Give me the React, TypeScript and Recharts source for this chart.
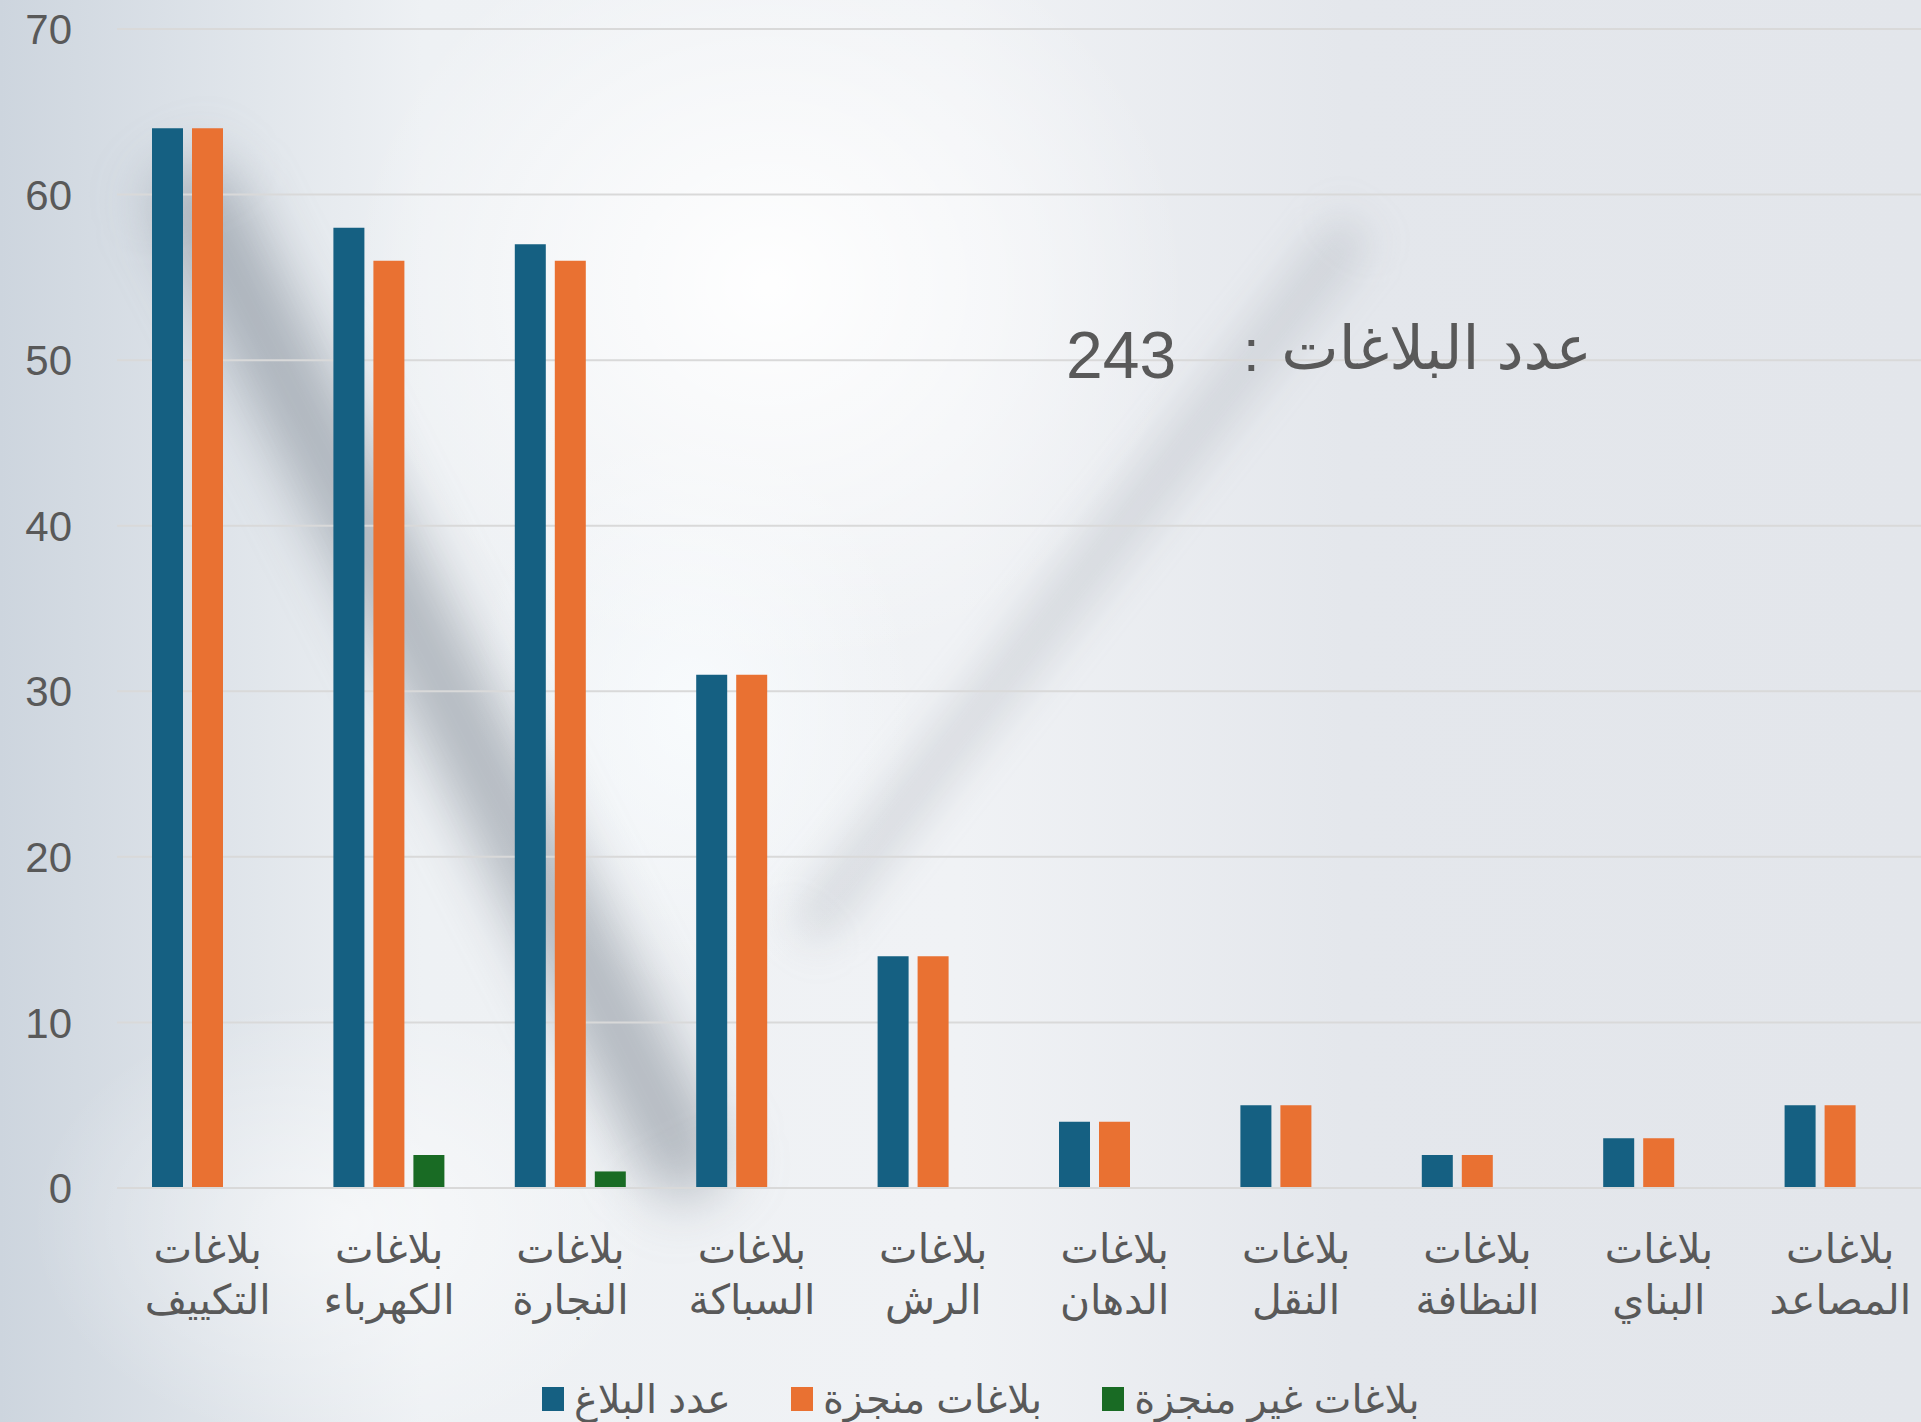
import { BarChart, Bar, XAxis, YAxis, CartesianGrid } from 'recharts';

const categories = [
  'بلاغات التكييف',
  'بلاغات الكهرباء',
  'بلاغات النجارة',
  'بلاغات السباكة',
  'بلاغات الرش',
  'بلاغات الدهان',
  'بلاغات النقل',
  'بلاغات النظافة',
  'بلاغات البناي',
  'بلاغات المصاعد',
];
const totalReports = [64, 58, 57, 31, 14, 4, 5, 2, 3, 5];
const doneReports = [64, 56, 56, 31, 14, 4, 5, 2, 3, 5];
const openReports = [0, 2, 1, 0, 0, 0, 0, 0, 0, 0];
const yTicks = [0, 10, 20, 30, 40, 50, 60, 70];

const series = [
  { key: 'total', name: 'عدد البلاغ', color: '#156082' },
  { key: 'done', name: 'بلاغات منجزة', color: '#E97132' },
  { key: 'open', name: 'بلاغات غير منجزة', color: '#196B24' },
];

const titleLabel = 'عدد البلاغات';
const titleValue = 243;

const data = categories.map((name, i) => ({
  name,
  total: totalReports[i],
  done: doneReports[i],
  open: openReports[i],
}));

const FONT = '"Liberation Sans", Arial, "DejaVu Sans", sans-serif';
const TEXT = '#595959';

const CategoryTick = ({ x, y, payload }: any) => {
  const words = String(payload.value).split(' ');
  return (
    <g>
      <text x={x} y={y + 67} textAnchor="middle" fill={TEXT} fontSize={41} fontFamily={FONT}>
        {words[0]}
      </text>
      <text x={x} y={y + 118} textAnchor="middle" fill={TEXT} fontSize={41} fontFamily={FONT}>
        {words.slice(1).join(' ')}
      </text>
    </g>
  );
};

const ValueTick = ({ y, payload }: any) => (
  <text x={72} y={y} dy="0.36em" textAnchor="end" fill={TEXT} fontSize={42} fontFamily={FONT}>
    {payload.value}
  </text>
);

// soft blurred streaks of the photo behind the chart
const Streak = ({ cx, cy, len, w, angle, color, blur }: any) => (
  <div
    style={{
      position: 'absolute',
      left: cx - w / 2,
      top: cy - len / 2,
      width: w,
      height: len,
      background: color,
      borderRadius: w,
      filter: `blur(${blur}px)`,
      transform: `rotate(${angle}deg)`,
    }}
  />
);

export default function App() {
  return (
    <div
      style={{
        position: 'absolute',
        left: 0,
        top: 0,
        width: 1921,
        height: 1422,
        overflow: 'hidden',
        fontFamily: FONT,
        background: [
          'radial-gradient(ellipse 560px 520px at 40% 20%, rgba(255,255,255,0.95), rgba(255,255,255,0) 75%)',
          'radial-gradient(ellipse 300px 380px at 36% 50%, rgba(250,253,255,0.8), rgba(255,255,255,0) 75%)',
          'radial-gradient(ellipse 420px 300px at 18% 86%, rgba(255,255,255,0.55), rgba(255,255,255,0) 75%)',
          'linear-gradient(to right, #cdd5de 0%, #eef1f4 22%, #f0f2f5 50%, #e4e7ec 70%, #e3e6eb 100%)',
        ].join(', '),
      }}
    >
      <Streak cx={440} cy={680} len={1150} w={80} angle={-27} color="rgba(110,120,132,0.5)" blur={30} />
      <Streak cx={1080} cy={580} len={900} w={40} angle={38} color="rgba(135,145,156,0.28)" blur={22} />

      <div style={{ position: 'absolute', left: 0, top: 0 }}>
        <BarChart
          width={1931}
          height={1422}
          data={data}
          margin={{ top: 29, right: 0, left: 0, bottom: 0 }}
          barSize={31}
          barGap={9}
        >
          <CartesianGrid vertical={false} stroke="#d9d9d9" strokeWidth={2} />
          <XAxis
            dataKey="name"
            height={234}
            tickLine={false}
            axisLine={{ stroke: '#d9d9d9', strokeWidth: 2 }}
            tick={<CategoryTick />}
            interval={0}
          />
          <YAxis
            width={117}
            domain={[0, 70]}
            ticks={yTicks}
            axisLine={false}
            tickLine={false}
            tick={<ValueTick />}
          />
          {series.map((s) => (
            <Bar key={s.key} dataKey={s.key} name={s.name} fill={s.color} isAnimationActive={false} />
          ))}
        </BarChart>
      </div>

      <div
        style={{
          position: 'absolute',
          left: 0,
          top: 0,
          width: 1921,
          height: 1422,
          pointerEvents: 'none',
          color: TEXT,
        }}
      >
        <span style={{ position: 'absolute', left: 1066, top: 322, fontSize: 66, lineHeight: '66px' }}>
          {titleValue}
        </span>
        <span style={{ position: 'absolute', left: 1243, top: 318, fontSize: 60, lineHeight: '66px' }}>:</span>
        <span
          style={{
            position: 'absolute',
            right: 1921 - 1592,
            top: 313,
            fontSize: 61,
            lineHeight: '70px',
            direction: 'rtl',
          }}
        >
          {titleLabel}
        </span>

        <div
          style={{
            position: 'absolute',
            left: 542,
            top: 1374,
            display: 'flex',
            alignItems: 'center',
            gap: 60,
            fontSize: 40,
            lineHeight: '50px',
          }}
        >
          {series.map((s) => (
            <div key={s.key} style={{ display: 'flex', alignItems: 'center', gap: 10 }}>
              <div style={{ width: 22, height: 24, background: s.color }} />
              <span style={{ direction: 'rtl' }}>{s.name}</span>
            </div>
          ))}
        </div>
      </div>
    </div>
  );
}
